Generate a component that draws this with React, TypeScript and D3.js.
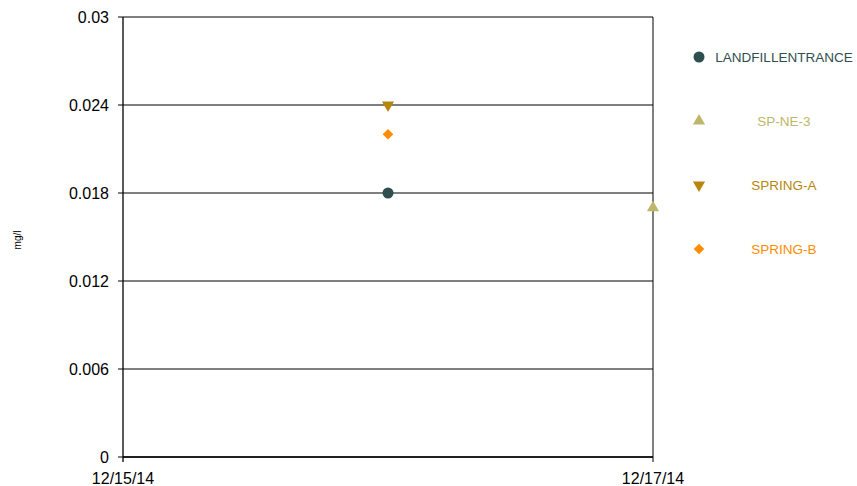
import React from "react";
import * as d3 from "d3";

const seriesNames = ["LANDFILLENTRANCE", "SP-NE-3", "SPRING-A", "SPRING-B"];
const seriesColors = ["#2F4F4F", "#BDB76B", "#B8860B", "#FF8C00"];
const seriesShapes = ["circle", "triangle", "triangleDown", "diamond"];
const seriesDates = [["2014-12-16"], ["2014-12-17"], ["2014-12-16"], ["2014-12-16"]];
const seriesValues = [[0.018], [0.017], [0.024], [0.022]];
const yTicks = [0, 0.006, 0.012, 0.018, 0.024, 0.03];
const xTickDates = ["2014-12-15", "2014-12-17"];

const W = 857, H = 486;
const left = 123, right = 653, top = 17, bottom = 457;
const parse = d3.timeParse("%Y-%m-%d");
const fmtX = d3.timeFormat("%m/%d/%y");

function symbolPath(shape: string, size: number) {
  const map: Record<string, any> = {
    circle: d3.symbolCircle,
    triangle: d3.symbolTriangle,
    diamond: d3.symbolSquare,
    triangleDown: d3.symbolTriangle,
  };
  return d3.symbol().type(map[shape]).size(size)() as string;
}

const rot: Record<string, string> = { circle: "", triangle: "", triangleDown: " rotate(180)", diamond: " rotate(45)" };

export default function App() {
  const x = d3.scaleTime().domain([parse(xTickDates[0])!, parse(xTickDates[1])!]).range([left, right]);
  const y = d3.scaleLinear().domain([0, 0.03]).range([bottom, top]);
  const font = "Arial, 'Liberation Sans', sans-serif";
  const sizes: Record<string, number> = { circle: 95, triangle: 64, triangleDown: 64, diamond: 56 };
  const legendY = [57, 121, 185, 249];

  const fmtY = (v: number) => (v === 0 ? "0" : d3.format(".3~f")(v));

  return (
    <svg width={W} height={H} style={{ position: "absolute", left: 0, top: 0 }}>
      <rect width={W} height={H} fill="#fff" />
      {yTicks.map((t) => (
        <g key={t}>
          <line x1={left - 5} x2={right} y1={y(t)} y2={y(t)} stroke="#000" strokeWidth={1} />
          <text x={109} y={y(t)} dy="0.35em" textAnchor="end" fontFamily={font} fontSize={16} fill="#000">
            {fmtY(t)}
          </text>
        </g>
      ))}
      <line x1={left} x2={left} y1={top} y2={bottom + 5} stroke="#000" strokeWidth={1.3} />
      <line x1={right} x2={right} y1={top} y2={bottom + 5} stroke="#000" strokeWidth={1} />
      <line x1={left} x2={right} y1={bottom} y2={bottom} stroke="#000" strokeWidth={1.3} />
      {xTickDates.map((d) => (
        <text key={d} x={x(parse(d)!)} y={484} textAnchor="middle" fontFamily={font} fontSize={16} fill="#000">
          {fmtX(parse(d)!)}
        </text>
      ))}
      <text transform={`translate(21,240) rotate(-90)`} textAnchor="middle" fontFamily={font} fontSize={10} fill="#000">
        mg/l
      </text>
      {seriesNames.map((name, i) =>
        seriesValues[i].map((v, j) => (
          <path
            key={name + j}
            d={symbolPath(seriesShapes[i], sizes[seriesShapes[i]])}
            transform={`translate(${x(parse(seriesDates[i][j])!)},${y(v)})${rot[seriesShapes[i]]}`}
            fill={seriesColors[i]}
          />
        ))
      )}
      {seriesNames.map((name, i) => (
        <g key={name}>
          <path
            d={symbolPath(seriesShapes[i], sizes[seriesShapes[i]])}
            transform={`translate(699,${legendY[i]})${rot[seriesShapes[i]]}`}
            fill={seriesColors[i]}
          />
          <text x={784} y={legendY[i]} dy="0.35em" textAnchor="middle" fontFamily={font} fontSize={13.5} fill={seriesColors[i]}>
            {name}
          </text>
        </g>
      ))}
    </svg>
  );
}
